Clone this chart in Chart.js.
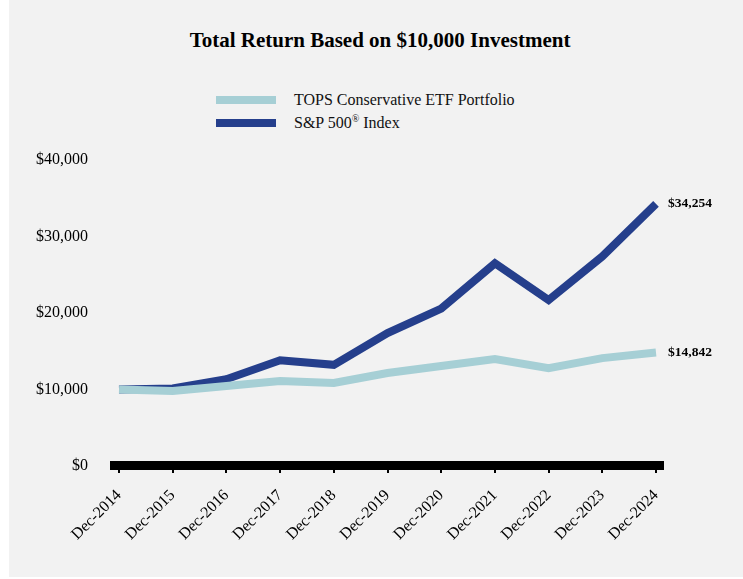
<!DOCTYPE html>
<html>
<head>
<meta charset="utf-8">
<script src="https://cdn.jsdelivr.net/npm/chart.js@4/dist/chart.umd.min.js"></script>
<style>
  body { margin: 0; background: #fff; }
  #panel { position: absolute; left: 9px; top: 0; width: 734px; height: 577px; background: #f2f2f2; }
  #title { position: absolute; left: 0; width: 760px; top: 28px; text-align: center;
           font: bold 21px "Liberation Serif", "Times New Roman", serif; color: #000; }
  #legend { position: absolute; left: 216px; top: 88px; font: 16px "Liberation Serif", serif; color: #111; }
  .item { height: 23px; display: flex; align-items: center; }
  .swatch { width: 60px; height: 8px; margin-right: 18px; }
  sup { font-size: 10px; }
  canvas { position: absolute; left: 0; top: 0; }
</style>
</head>
<body>
<div id="panel"></div>
<div id="title">Total Return Based on $10,000 Investment</div>
<div id="legend"></div>
<canvas id="lineChart" width="743" height="579"></canvas>
<script>
const years = ['Dec-2014', 'Dec-2015', 'Dec-2016', 'Dec-2017', 'Dec-2018', 'Dec-2019', 'Dec-2020', 'Dec-2021', 'Dec-2022', 'Dec-2023', 'Dec-2024'];
const topsValues = [10000, 9800, 10450, 11100, 10850, 12150, 13070, 13990, 12800, 14100, 14842];
const spValues = [10000, 10138, 11351, 13829, 13223, 17386, 20585, 26494, 21696, 27400, 34254];
const yTicks = [0, 10000, 20000, 30000, 40000];

const fmt = v => '$' + v.toLocaleString('en-US');

// black axis bar + small tick marks
const axisBar = {
  id: 'axisBar',
  afterDatasetsDraw(chart) {
    const ctx = chart.ctx, x = chart.scales.x, a = chart.chartArea;
    ctx.save();
    ctx.fillStyle = '#000';
    ctx.fillRect(a.left - 9, a.bottom - 5, a.right - a.left + 17, 9);
    x.ticks.forEach((t, i) => {
      const px = Math.round(x.getPixelForTick(i));
      ctx.fillRect(px - 1, a.bottom + 4, 2, 3);
    });
    ctx.restore();
  }
};

// end value labels
const endLabels = {
  id: 'endLabels',
  afterDatasetsDraw(chart) {
    const ctx = chart.ctx;
    ctx.save();
    ctx.font = 'bold 13.5px "Liberation Serif", serif';
    ctx.fillStyle = '#000';
    ctx.textBaseline = 'middle';
    chart.data.datasets.forEach((ds, i) => {
      const pts = chart.getDatasetMeta(i).data;
      const p = pts[pts.length - 1];
      ctx.fillText(fmt(ds.data[ds.data.length - 1]), p.x + 12, p.y);
    });
    ctx.restore();
  }
};

const lineCtx = document.getElementById('lineChart').getContext('2d');
const chart = new Chart(lineCtx, {
  type: 'line',
  data: {
    labels: years,
    datasets: [{
      label: 'TOPS Conservative ETF Portfolio',
      data: topsValues,
      borderColor: '#a6cfd5',
      borderWidth: 8,
      pointRadius: 0,
      tension: 0
    }, {
      label: 'S&P 500® Index',
      data: spValues,
      borderColor: '#253f8c',
      borderWidth: 8,
      borderJoinStyle: 'miter',
      pointRadius: 0,
      tension: 0
    }]
  },
  options: {
    responsive: false,
    animation: false,
    layout: { padding: { top: 160, right: 87, left: 0, bottom: 0 } },
    plugins: {
      legend: { display: false },
      tooltip: { enabled: false }
    },
    scales: {
      x: {
        grid: { display: false, drawTicks: false },
        border: { display: false },
        afterFit(s) { s.height = 113; },
        ticks: {
          color: '#000',
          font: { family: '"Liberation Serif", serif', size: 16 },
          minRotation: 45,
          maxRotation: 45,
          padding: 20,
          autoSkip: false
        }
      },
      y: {
        min: 0,
        max: 40000,
        grid: { display: false, drawTicks: false },
        border: { display: false },
        afterFit(s) { s.width = 119; },
        afterBuildTicks(s) { s.ticks = yTicks.map(v => ({ value: v })); },
        ticks: {
          color: '#000',
          font: { family: '"Liberation Serif", serif', size: 16 },
          padding: 31,
          callback: v => fmt(v)
        }
      }
    }
  },
  plugins: [axisBar, endLabels]
});

// legend stacked vertically, built from the datasets
const legend = document.getElementById('legend');
chart.data.datasets.forEach(ds => {
  const row = document.createElement('div');
  row.className = 'item';
  const sw = document.createElement('span');
  sw.className = 'swatch';
  sw.style.background = ds.borderColor;
  const txt = document.createElement('span');
  txt.innerHTML = ds.label.replace('®', '<sup>®</sup>');
  row.appendChild(sw);
  row.appendChild(txt);
  legend.appendChild(row);
});
</script>
</body>
</html>
